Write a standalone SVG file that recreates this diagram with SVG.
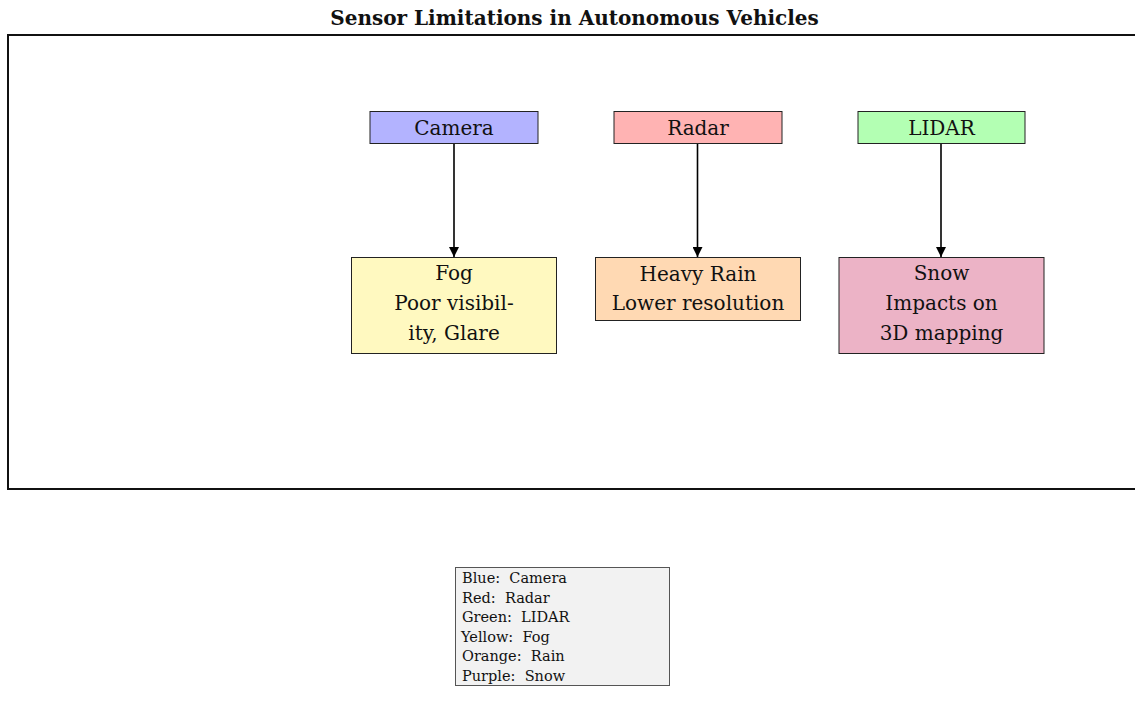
<svg xmlns="http://www.w3.org/2000/svg" width="1135" height="722" viewBox="0 0 1135 722">
<style>
  .t{font-family:"DejaVu Serif","Liberation Serif",serif;font-size:20px;fill:#111;text-anchor:middle}
  .title{font-family:"DejaVu Serif","Liberation Serif",serif;font-size:20px;font-weight:bold;fill:#111;text-anchor:middle}
  .lg{font-family:"DejaVu Serif","Liberation Serif",serif;font-size:14.5px;fill:#111}
  .box{stroke:#222;stroke-width:1}
  .edge{stroke:#000;stroke-width:1.6;fill:none}
</style>
<defs>
  <marker id="arr" viewBox="0 0 10 10" refX="10" refY="5" markerWidth="10" markerHeight="10" markerUnits="userSpaceOnUse" orient="auto">
    <path d="M0,0 L10,5 L0,10 z" fill="#000"/>
  </marker>
</defs>
<rect width="1135" height="722" fill="#fff"/>
<text class="title" x="574.5" y="25">Sensor Limitations in Autonomous Vehicles</text>
<rect x="8" y="35" width="1140" height="454" fill="none" stroke="#111" stroke-width="2"/>

<g id="connectors">
  <line class="edge" x1="454" y1="143" x2="454" y2="257" marker-end="url(#arr)"/>
  <line class="edge" x1="697.5" y1="144" x2="697.5" y2="257" marker-end="url(#arr)"/>
  <line class="edge" x1="941" y1="143" x2="941" y2="257" marker-end="url(#arr)"/>
</g>

<g id="camera">
  <rect class="box" x="370" y="111.5" width="168" height="32" fill="#b3b3ff"/>
  <text class="t" x="454" y="135">Camera</text>
</g>
<g id="radar">
  <rect class="box" x="614" y="111.5" width="168" height="32" fill="#ffb3b3"/>
  <text class="t" x="698" y="135">Radar</text>
</g>
<g id="lidar">
  <rect class="box" x="858" y="111.5" width="167" height="32" fill="#b3ffb3"/>
  <text class="t" x="941.5" y="135">LIDAR</text>
</g>

<g id="fog">
  <rect class="box" x="351.5" y="257.5" width="205" height="96" fill="#fff9c0"/>
  <text class="t" x="454" y="280">Fog</text>
  <text class="t" x="454" y="310">Poor visibil-</text>
  <text class="t" x="454" y="340">ity, Glare</text>
</g>
<g id="rain">
  <rect class="box" x="595.5" y="257.5" width="205" height="63" fill="#ffd9b3"/>
  <text class="t" x="698" y="281">Heavy Rain</text>
  <text class="t" x="698" y="310">Lower resolution</text>
</g>
<g id="snow">
  <rect class="box" x="839" y="257.5" width="205" height="96" fill="#ecb3c6"/>
  <text class="t" x="941.5" y="280">Snow</text>
  <text class="t" x="941.5" y="310">Impacts on</text>
  <text class="t" x="941.5" y="340">3D mapping</text>
</g>

<g id="legend">
  <rect x="455.5" y="567.5" width="214" height="118" fill="#f2f2f2" stroke="#555" stroke-width="1"/>
  <text class="lg" x="462" y="583" xml:space="preserve">Blue:  Camera</text>
  <text class="lg" x="462" y="602.5" xml:space="preserve">Red:  Radar</text>
  <text class="lg" x="462" y="622" xml:space="preserve">Green:  LIDAR</text>
  <text class="lg" x="461" y="641.5" xml:space="preserve">Yellow:  Fog</text>
  <text class="lg" x="462" y="661" xml:space="preserve">Orange:  Rain</text>
  <text class="lg" x="462" y="680.5" xml:space="preserve">Purple:  Snow</text>
</g>
</svg>
